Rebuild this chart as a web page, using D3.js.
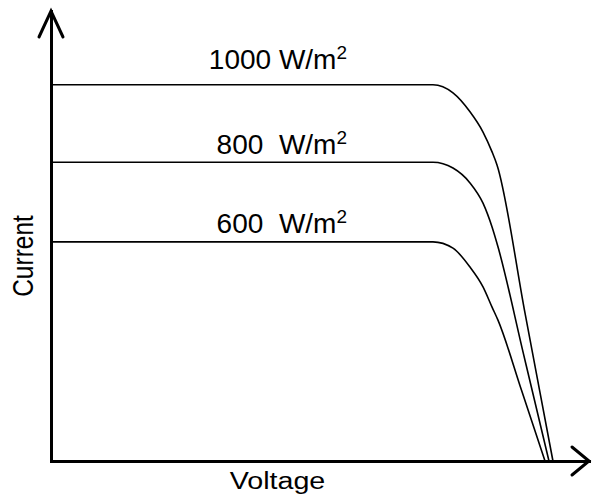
<!DOCTYPE html>
<html>
<head>
<meta charset="utf-8">
<script src="https://cdn.jsdelivr.net/npm/d3@7"></script>
<style>
  html, body { margin: 0; padding: 0; background: #fff; }
  svg { display: block; }
  text { font-family: "Liberation Sans", Arial, sans-serif; fill: #000; }
</style>
</head>
<body>
<svg id="chart" width="592" height="498"></svg>
<script>
// I-V characteristics of a PV module at three irradiance levels
// (voltage in V, current in A)
const irradiance = [1000, 800, 600];
const irradianceLabels = ["1000 W/m", "800  W/m", "600  W/m"];
const unitExponent = "2";

const curve1000 = [[0, 8.36], [35.5, 8.36], [37.36, 8.18], [38.94, 7.76], [40.15, 7.31],
                   [40.99, 6.87], [41.45, 6.58], [44.05, 3.29], [46.65, 0]];
const curve800  = [[0, 6.64], [35.5, 6.64], [37.36, 6.51], [38.94, 6.18], [40.15, 5.73],
                   [40.99, 5.20], [41.54, 4.76], [43.91, 2.38], [46.28, 0]];
const curve600  = [[0, 4.87], [35.5, 4.87], [37.36, 4.73], [38.94, 4.31], [40.15, 3.87],
                   [40.99, 3.42], [41.54, 3.13], [43.73, 1.57], [45.91, 0]];
const curves = [curve1000, curve800, curve600];

const voltageDomain = [0, 50];
const currentDomain = [0, 10];
const xTitle = "Voltage";
const yTitle = "Current";

const svg = d3.select("#chart");

const x = d3.scaleLinear().domain(voltageDomain).range([51, 589]);
const y = d3.scaleLinear().domain(currentDomain).range([461, 11]);

// Axes: plain lines without ticks, finished with open arrowheads
const xAxis = svg.append("g")
  .attr("transform", `translate(0,${y(0)})`)
  .call(d3.axisBottom(x).tickValues([]).tickSizeOuter(0));
const yAxis = svg.append("g")
  .attr("transform", `translate(${x(0)},0)`)
  .call(d3.axisLeft(y).tickValues([]).tickSizeOuter(0));
[xAxis, yAxis].forEach(g => g.select(".domain")
  .attr("stroke", "#000").attr("stroke-width", 3).attr("stroke-linecap", "square"));

const xTip = [x.range()[1], y(0)];
const yTip = [x(0), y.range()[1]];
const arrows = [
  [[xTip[0] - 17, xTip[1] - 14], xTip, [xTip[0] - 17, xTip[1] + 14]],
  [[yTip[0] - 12, yTip[1] + 26], yTip, [yTip[0] + 12, yTip[1] + 26]]
];
svg.selectAll("path.arrow").data(arrows).join("path")
  .attr("class", "arrow")
  .attr("d", d3.line())
  .attr("fill", "none")
  .attr("stroke", "#000")
  .attr("stroke-width", 3)
  .attr("stroke-linecap", "round")
  .attr("stroke-linejoin", "miter");

// I-V curves
const line = d3.line()
  .x(d => x(d[0]))
  .y(d => y(d[1]))
  .curve(d3.curveMonotoneX);

svg.selectAll("path.iv").data(curves).join("path")
  .attr("class", "iv")
  .attr("d", line)
  .attr("fill", "none")
  .attr("stroke", "#000")
  .attr("stroke-width", 1.6);

// Irradiance labels above each short-circuit level
const labelRight = 347;
const labelLift = [15.5, 8.7, 8.7];
const labels = svg.selectAll("text.irr").data(irradiance).join("text")
  .attr("class", "irr")
  .attr("x", labelRight)
  .attr("y", (d, i) => y(curves[i][0][1]) - labelLift[i])
  .attr("text-anchor", "end")
  .style("white-space", "pre")
  .attr("font-size", 28);
labels.append("tspan").text((d, i) => irradianceLabels[i]);
labels.append("tspan")
  .attr("dy", -10)
  .attr("font-size", 19)
  .text(unitExponent);

// Axis titles
svg.append("text")
  .attr("transform", `translate(277.5,489) scale(1.17,1)`)
  .attr("text-anchor", "middle")
  .attr("font-size", 24.5)
  .text(xTitle);

svg.append("text")
  .attr("transform", `translate(33,256) scale(1.17,1) rotate(-90)`)
  .attr("text-anchor", "middle")
  .attr("font-size", 24.5)
  .text(yTitle);
</script>
</body>
</html>
